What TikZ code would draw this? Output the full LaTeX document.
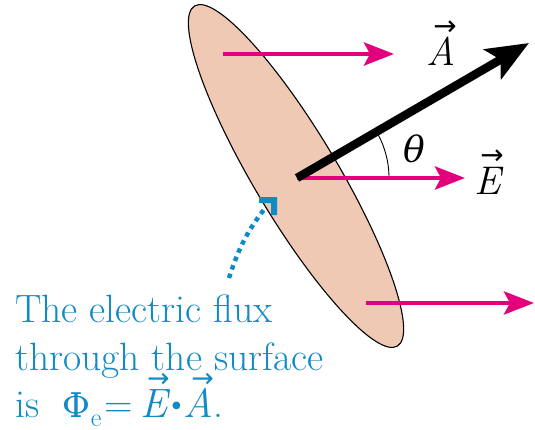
\documentclass[tikz,border=0pt]{standalone}
\usepackage{fontspec}
\newfontfamily\dserif{DejaVu Serif}
\newfontfamily\arrowfont{DejaVu Sans}
\usetikzlibrary{arrows.meta,shapes.geometric}
\definecolor{peach}{RGB}{239,201,179}
\definecolor{flux}{RGB}{228,0,124}
\definecolor{capblue}{RGB}{16,139,196}
\newsavebox\veclbox
\newcommand\vecletter[2]{\leavevmode\sbox\veclbox{\fontsize{#2}{#2}\selectfont\itshape #1}%
  \rlap{\hbox to \wd\veclbox{\hss\raisebox{0.74em}[0pt][0pt]{\hspace{0.2em}\scalebox{0.68}{\arrowfont →}}\hss}}\usebox\veclbox}
\tikzset{
  fieldarrow/.style={draw=flux, line width=4.6pt, -{Stealth[length=30pt,width=23pt,inset=6pt]}},
  areaarrow/.style={draw=black, line width=8.5pt, -{Stealth[length=42pt,width=34pt,inset=9pt]}},
  caption/.style={anchor=base west, inner sep=0pt, text=capblue, font=\fontsize{39.5}{48}\selectfont},
  vlabel/.style={anchor=base, inner sep=0pt, font=\fontsize{41}{46}\selectfont},
  diskshape/.style={ellipse, draw=black, line width=1.1pt, fill=peach, inner sep=0pt,
                    minimum width=396pt, minimum height=84pt, rotate=-59.2},
  dotted path/.style={draw=capblue, line width=4.5pt, dash pattern=on 4.5pt off 4.5pt},
}
\begin{document}
\begin{tikzpicture}[x=1pt,y=1pt]
\useasboundingbox (0,0) rectangle (535,429);
% surface
\node[diskshape] (disk) at (296,253) {};
% coordinates
\coordinate (O) at (297,251);
\coordinate (top1) at (223,375);
\coordinate (top2) at (394,375);
\coordinate (Eend) at (465,251);
\coordinate (Aend) at (529,386);
\coordinate (bot1) at (366,126);
\coordinate (bot2) at (534,126);
\coordinate (arcstart) at (389,251);
% field arrows
\draw[fieldarrow] (top1) -- (top2);
\draw[line width=0.9pt] (arcstart) arc[start angle=0, end angle=30.2, radius=92];
\draw[fieldarrow] (O) -- (Eend);
\draw[areaarrow] (O) -- (Aend);
\draw[fieldarrow] (bot1) -- (bot2);
% labels
\node[vlabel] (Alab) at (441,363) {\vecletter{A}{40}};
\node[vlabel] (Elab) at (488,234) {\vecletter{E}{40}};
\node[vlabel] (theta) at (414,266) {\dserif\itshape\fontsize{36}{36}\selectfont θ};
% dotted pointer
\coordinate (dstart) at (229,151);
\coordinate (dend) at (266,222);
\draw[dotted path] (dstart) to[out=72,in=232] (dend);
\fill[capblue] (259,232) -- (277,232) -- (277,214) -- (271,214) -- (271,226) -- (259,226) -- cycle;
% caption
\node[caption] (c1) at (15,107) {The electric flux};
\node[caption] (c2) at (15,59) {through the surface};
\node[caption] (c3) at (15,12) {is\hspace{0.6em}{\dserif\fontsize{34}{34}\selectfont Φ}\raisebox{-9pt}{\fontsize{26}{26}\selectfont e}\hspace{3pt}=\hspace{8pt}\vecletter{E}{41}\hspace{4pt}\raisebox{9pt}{\arrowfont\fontsize{10}{10}\selectfont ●}\hspace{3pt}\vecletter{A}{41}.};
\end{tikzpicture}
\end{document}
